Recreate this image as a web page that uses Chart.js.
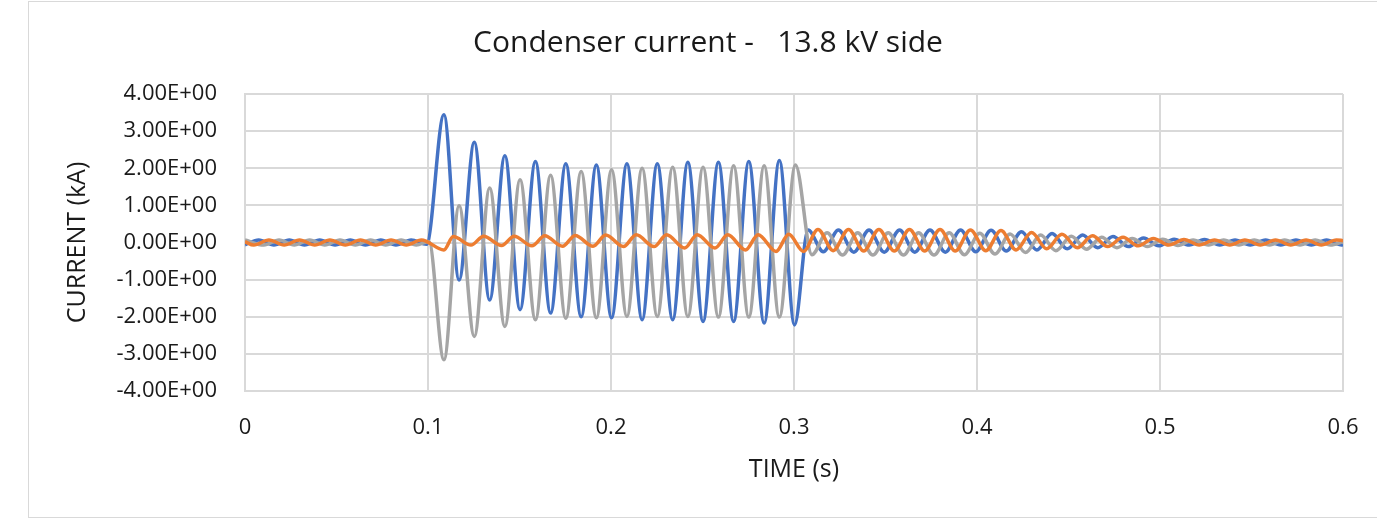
<!DOCTYPE html>
<html>
<head>
<meta charset="utf-8">
<title>Condenser current - 13.8 kV side</title>
<script src="https://cdn.jsdelivr.net/npm/chart.js@4"></script>
<style>
  html, body { margin: 0; padding: 0; background: #fff; overflow: hidden; }
  #wrap { position: relative; width: 1377px; height: 519px; }
</style>
</head>
<body>
<div id="wrap"><canvas id="currentChart"></canvas></div>
<script>
// Phase currents (kA) vs time (s), peaks and troughs of each cycle
const phaseA = [
  [0, -0.06], [0.0075, 0.07], [0.0158, -0.07], [0.0242, 0.07], [0.0325, -0.07], [0.0408, 0.07],
  [0.0492, -0.07], [0.0575, 0.07], [0.0658, -0.07], [0.0742, 0.07], [0.0825, -0.07], [0.0908, 0.07],
  [0.0992, -0.05],
  [0.1087, 3.44], [0.1170, -1.01], [0.1253, 2.70], [0.1337, -1.55], [0.1420, 2.34], [0.1503, -1.81],
  [0.1587, 2.18], [0.1670, -1.90], [0.1753, 2.12], [0.1837, -2.00], [0.1920, 2.09], [0.2003, -2.03],
  [0.2087, 2.12], [0.2170, -2.08], [0.2253, 2.12], [0.2337, -2.08], [0.2420, 2.16], [0.2503, -2.13],
  [0.2587, 2.16], [0.2670, -2.13], [0.2753, 2.18], [0.2837, -2.17], [0.2920, 2.21], [0.3003, -2.22],
  [0.3077, 0.34], [0.3160, -0.25], [0.3243, 0.34], [0.3327, -0.26], [0.3410, 0.34], [0.3493, -0.26],
  [0.3577, 0.34], [0.3660, -0.26], [0.3743, 0.34], [0.3827, -0.26], [0.3910, 0.34], [0.3993, -0.25],
  [0.4077, 0.33], [0.4160, -0.23], [0.4243, 0.29], [0.4327, -0.20], [0.4410, 0.24], [0.4493, -0.17],
  [0.4577, 0.20], [0.4660, -0.14], [0.4743, 0.16], [0.4827, -0.11], [0.4910, 0.12], [0.4993, -0.09],
  [0.5077, 0.09], [0.5160, -0.07], [0.5243, 0.08], [0.5327, -0.07], [0.5410, 0.07], [0.5493, -0.07],
  [0.5577, 0.07], [0.5660, -0.07], [0.5743, 0.07], [0.5827, -0.07], [0.5910, 0.07], [0.5993, -0.07],
  [0.6, -0.06]
];

const phaseB = [
  [0, 0.02], [0.0048, -0.07], [0.0131, 0.07], [0.0214, -0.07], [0.0298, 0.07], [0.0381, -0.07],
  [0.0464, 0.07], [0.0548, -0.07], [0.0631, 0.07], [0.0714, -0.07], [0.0798, 0.07], [0.0881, -0.07],
  [0.0964, 0.07],
  [0.1087, -0.20], [0.1138, 0.16], [0.1235, -0.07], [0.1304, 0.17], [0.1402, -0.08], [0.1471, 0.17],
  [0.1568, -0.09], [0.1638, 0.18], [0.1735, -0.10], [0.1804, 0.19], [0.1902, -0.10], [0.1971, 0.20],
  [0.2068, -0.11], [0.2138, 0.21], [0.2235, -0.11], [0.2304, 0.21], [0.2402, -0.15], [0.2471, 0.21],
  [0.2568, -0.15], [0.2638, 0.21], [0.2735, -0.20], [0.2804, 0.21], [0.2902, -0.24], [0.2971, 0.22],
  [0.3052, -0.24],
  [0.3131, 0.35], [0.3214, -0.22], [0.3298, 0.35], [0.3381, -0.23], [0.3464, 0.35], [0.3548, -0.23],
  [0.3631, 0.35], [0.3714, -0.23], [0.3798, 0.35], [0.3881, -0.23], [0.3964, 0.34], [0.4048, -0.22],
  [0.4131, 0.32], [0.4214, -0.20], [0.4298, 0.27], [0.4381, -0.17], [0.4464, 0.22], [0.4548, -0.14],
  [0.4631, 0.18], [0.4714, -0.11], [0.4798, 0.14], [0.4881, -0.09], [0.4964, 0.11], [0.5048, -0.07],
  [0.5131, 0.08], [0.5214, -0.07], [0.5298, 0.07], [0.5381, -0.07], [0.5464, 0.07], [0.5548, -0.07],
  [0.5631, 0.07], [0.5714, -0.07], [0.5798, 0.07], [0.5881, -0.07], [0.5964, 0.07], [0.6, 0.05]
];

const phaseC = [
  [0, 0.07], [0.0103, -0.07], [0.0186, 0.07], [0.0269, -0.07], [0.0353, 0.07], [0.0436, -0.07],
  [0.0519, 0.07], [0.0603, -0.07], [0.0686, 0.07], [0.0769, -0.07], [0.0853, 0.07], [0.0936, -0.07],
  [0.1005, 0.03],
  [0.1087, -3.16], [0.1170, 0.99], [0.1253, -2.53], [0.1337, 1.47], [0.1420, -2.26], [0.1503, 1.69],
  [0.1587, -2.08], [0.1670, 1.81], [0.1753, -2.04], [0.1837, 1.91], [0.1920, -2.03], [0.2003, 1.96],
  [0.2087, -1.99], [0.2170, 2.00], [0.2253, -1.99], [0.2337, 2.03], [0.2420, -1.99], [0.2503, 2.03],
  [0.2587, -2.01], [0.2670, 2.07], [0.2753, -2.01], [0.2837, 2.07], [0.2920, -2.01], [0.3008, 2.09],
  [0.3098, -0.33], [0.3181, 0.26], [0.3265, -0.34], [0.3348, 0.26], [0.3431, -0.34], [0.3515, 0.26],
  [0.3598, -0.34], [0.3681, 0.26], [0.3765, -0.34], [0.3848, 0.26], [0.3931, -0.33], [0.4015, 0.25],
  [0.4098, -0.31], [0.4181, 0.23], [0.4265, -0.27], [0.4348, 0.20], [0.4431, -0.22], [0.4515, 0.17],
  [0.4598, -0.18], [0.4681, 0.14], [0.4765, -0.14], [0.4848, 0.11], [0.4931, -0.11], [0.5015, 0.09],
  [0.5098, -0.08], [0.5181, 0.07], [0.5265, -0.07], [0.5348, 0.07], [0.5431, -0.07], [0.5515, 0.07],
  [0.5598, -0.07], [0.5681, 0.07], [0.5765, -0.07], [0.5848, 0.07], [0.5931, -0.07], [0.6, 0.02]
];

const chartTitle = 'Condenser current -   13.8 kV side';
const xAxisTitle = 'TIME (s)';
const yAxisTitle = 'CURRENT (kA)';

const FONT = "'Open Sans', 'DejaVu Sans', sans-serif";
const TEXT = '#1a1a1a';
const GRID = '#D9D9D9';

const toPoints = rows => rows.map(([t, v]) => ({ x: t, y: v }));

// outer frame of the chart object (right side runs off the page)
const framePlugin = {
  id: 'frame',
  beforeDraw(chart) {
    const ctx = chart.ctx;
    ctx.save();
    ctx.strokeStyle = GRID;
    ctx.lineWidth = 1;
    ctx.strokeRect(28.5, 1.5, 1400, 516);
    ctx.restore();
  }
};

// title centred over the full frame, not just the canvas
const titlePlugin = {
  id: 'frameTitle',
  afterDraw(chart) {
    const ctx = chart.ctx;
    ctx.save();
    ctx.font = `30px ${FONT}`;
    ctx.fillStyle = TEXT;
    ctx.textAlign = 'center';
    ctx.textBaseline = 'alphabetic';
    ctx.fillText(chartTitle, 708, 52);
    ctx.restore();
  }
};

const lineStyle = color => ({
  borderColor: color,
  backgroundColor: color,
  borderWidth: 3.5,
  pointRadius: 0,
  cubicInterpolationMode: 'monotone',
  fill: false
});

new Chart(document.getElementById('currentChart'), {
  type: 'line',
  data: {
    datasets: [
      { label: 'Phase A', data: toPoints(phaseA), order: 2, ...lineStyle('#4472C4') },
      { label: 'Phase B', data: toPoints(phaseB), order: 0, ...lineStyle('#ED7D31') },
      { label: 'Phase C', data: toPoints(phaseC), order: 1, ...lineStyle('#A5A5A5') }
    ]
  },
  options: {
    responsive: true,
    maintainAspectRatio: false,
    animation: false,
    layout: { padding: { left: 28, right: 34, top: 94, bottom: 0 } },
    plugins: {
      legend: { display: false },
      title: { display: false },
      tooltip: { enabled: false }
    },
    scales: {
      x: {
        type: 'linear',
        min: 0,
        max: 0.6,
        afterFit: scale => {
          scale.height = 128;
          // the end labels fit inside the outer padding already
          scale.paddingLeft = 0;
          scale.paddingRight = 0;
        },
        grid: { color: GRID, lineWidth: 2, drawTicks: false },
        border: { color: GRID, width: 2 },
        ticks: {
          stepSize: 0.1,
          padding: 24,
          maxRotation: 0,
          color: TEXT,
          font: { family: FONT, size: 22 },
          callback: v => String(Math.round(v * 10) / 10)
        },
        title: {
          display: true,
          text: xAxisTitle,
          color: TEXT,
          font: { family: FONT, size: 25 },
          padding: { top: 0, bottom: 34 }
        }
      },
      y: {
        min: -4,
        max: 4,
        afterFit: scale => { scale.width = 217; },
        grid: { color: GRID, lineWidth: 2, drawTicks: false },
        border: { color: GRID, width: 2 },
        ticks: {
          stepSize: 1,
          padding: 28,
          color: TEXT,
          font: { family: FONT, size: 22 },
          callback: v => v.toFixed(2) + 'E+00'
        },
        title: {
          display: true,
          text: yAxisTitle,
          color: TEXT,
          font: { family: FONT, size: 25 },
          padding: { top: 35, bottom: 0 }
        }
      }
    }
  },
  plugins: [framePlugin, titlePlugin]
});
</script>
</body>
</html>
